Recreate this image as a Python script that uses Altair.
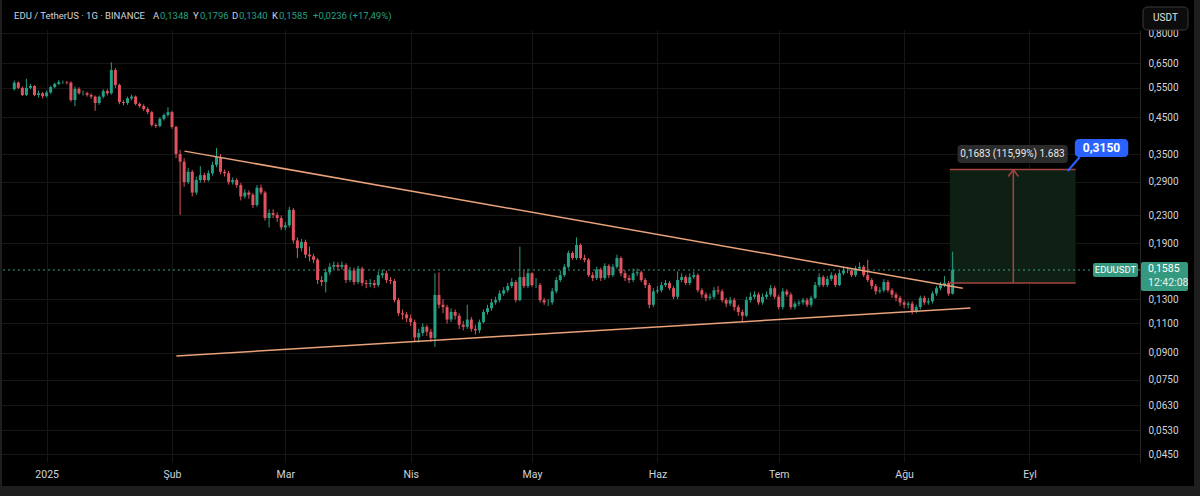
import altair as alt
import pandas as pd

# ---------------- data ----------------
first_open = 0.545
closes = [
    0.570, 0.550, 0.524, 0.550, 0.557, 0.524, 0.530, 0.520, 0.533, 0.553,
    0.565, 0.572, 0.572, 0.570, 0.506, 0.546, 0.530, 0.530, 0.524, 0.518,
    0.496, 0.518, 0.538, 0.530, 0.621, 0.561, 0.499, 0.496, 0.512, 0.518,
    0.493, 0.486, 0.476, 0.466, 0.427, 0.424, 0.445, 0.457, 0.466, 0.421,
    0.350, 0.332, 0.289, 0.310, 0.269, 0.293, 0.303, 0.293, 0.307, 0.325,
    0.343, 0.310, 0.307, 0.289, 0.293, 0.283, 0.262, 0.269, 0.265, 0.247,
    0.278, 0.269, 0.226, 0.234, 0.231, 0.226, 0.212, 0.215, 0.239, 0.194,
    0.184, 0.192, 0.176, 0.174, 0.170, 0.148, 0.146, 0.156, 0.162, 0.164,
    0.162, 0.164, 0.148, 0.158, 0.146, 0.160, 0.145, 0.144, 0.145, 0.143,
    0.153, 0.155, 0.148, 0.147, 0.129, 0.118, 0.117, 0.114, 0.111, 0.100,
    0.103, 0.1075, 0.104, 0.0997, 0.1336, 0.125, 0.123, 0.113, 0.119, 0.116,
    0.109, 0.1075, 0.113, 0.106, 0.105, 0.111, 0.119, 0.122, 0.127, 0.129,
    0.135, 0.138, 0.142, 0.146, 0.129, 0.151, 0.142, 0.155, 0.143, 0.143,
    0.129, 0.127, 0.127, 0.137, 0.148, 0.153, 0.162, 0.178, 0.172, 0.188,
    0.172, 0.170, 0.153, 0.150, 0.159, 0.150, 0.163, 0.153, 0.162, 0.172,
    0.155, 0.150, 0.148, 0.155, 0.156, 0.148, 0.143, 0.125, 0.137, 0.138,
    0.143, 0.145, 0.140, 0.132, 0.148, 0.151, 0.145, 0.151, 0.153, 0.138,
    0.134, 0.131, 0.132, 0.138, 0.137, 0.129, 0.126, 0.129, 0.123, 0.119,
    0.116, 0.129, 0.132, 0.134, 0.127, 0.132, 0.134, 0.140, 0.132, 0.123,
    0.137, 0.134, 0.123, 0.126, 0.127, 0.129, 0.125, 0.131, 0.143, 0.151,
    0.143, 0.149, 0.153, 0.143, 0.155, 0.158, 0.158, 0.153, 0.160, 0.162,
    0.153, 0.148, 0.142, 0.137, 0.138, 0.146, 0.138, 0.134, 0.131, 0.127,
    0.125, 0.126, 0.120, 0.123, 0.131, 0.127, 0.128, 0.135, 0.140, 0.143,
    0.145, 0.1348, 0.1585,
]
highs = [
    0.578, 0.575, 0.555, 0.585, 0.565, 0.560, 0.540, 0.535, 0.540, 0.558,
    0.570, 0.580, 0.578, 0.576, 0.575, 0.555, 0.552, 0.540, 0.536, 0.530,
    0.522, 0.522, 0.545, 0.545, 0.655, 0.630, 0.566, 0.505, 0.518, 0.525,
    0.522, 0.498, 0.492, 0.482, 0.470, 0.432, 0.450, 0.462, 0.482, 0.470,
    0.425, 0.360, 0.340, 0.318, 0.314, 0.300, 0.322, 0.308, 0.313, 0.332,
    0.365, 0.350, 0.315, 0.312, 0.298, 0.297, 0.287, 0.275, 0.273, 0.268,
    0.283, 0.284, 0.272, 0.240, 0.240, 0.235, 0.230, 0.220, 0.244, 0.242,
    0.198, 0.196, 0.195, 0.186, 0.177, 0.172, 0.152, 0.160, 0.166, 0.168,
    0.167, 0.168, 0.166, 0.162, 0.161, 0.163, 0.162, 0.148, 0.149, 0.148,
    0.157, 0.159, 0.158, 0.151, 0.149, 0.131, 0.121, 0.119, 0.117, 0.113,
    0.106, 0.110, 0.109, 0.106, 0.155, 0.156, 0.130, 0.125, 0.122, 0.121,
    0.118, 0.112, 0.125, 0.115, 0.109, 0.113, 0.121, 0.125, 0.130, 0.132,
    0.138, 0.141, 0.145, 0.150, 0.148, 0.186, 0.158, 0.160, 0.156, 0.150,
    0.145, 0.131, 0.130, 0.140, 0.151, 0.158, 0.165, 0.181, 0.180, 0.198,
    0.190, 0.176, 0.172, 0.156, 0.162, 0.161, 0.166, 0.165, 0.165, 0.176,
    0.174, 0.158, 0.153, 0.160, 0.160, 0.158, 0.150, 0.145, 0.140, 0.142,
    0.146, 0.148, 0.147, 0.142, 0.157, 0.155, 0.153, 0.155, 0.157, 0.155,
    0.140, 0.136, 0.135, 0.141, 0.142, 0.139, 0.131, 0.132, 0.131, 0.125,
    0.121, 0.132, 0.136, 0.137, 0.136, 0.135, 0.137, 0.143, 0.142, 0.134,
    0.140, 0.139, 0.136, 0.128, 0.129, 0.131, 0.131, 0.133, 0.146, 0.155,
    0.153, 0.152, 0.156, 0.155, 0.158, 0.162, 0.162, 0.160, 0.163, 0.167,
    0.164, 0.170, 0.150, 0.144, 0.141, 0.149, 0.148, 0.140, 0.136, 0.133,
    0.129, 0.128, 0.128, 0.125, 0.133, 0.133, 0.131, 0.137, 0.142, 0.146,
    0.152, 0.147, 0.1796,
]
lows = [
    0.540, 0.545, 0.520, 0.520, 0.545, 0.520, 0.515, 0.512, 0.515, 0.528,
    0.548, 0.560, 0.565, 0.563, 0.500, 0.485, 0.525, 0.522, 0.518, 0.510,
    0.470, 0.490, 0.512, 0.522, 0.525, 0.550, 0.492, 0.488, 0.490, 0.505,
    0.488, 0.480, 0.470, 0.460, 0.422, 0.418, 0.420, 0.440, 0.452, 0.416,
    0.340, 0.231, 0.280, 0.285, 0.262, 0.265, 0.288, 0.288, 0.290, 0.302,
    0.320, 0.305, 0.300, 0.284, 0.284, 0.278, 0.255, 0.258, 0.258, 0.242,
    0.244, 0.265, 0.222, 0.212, 0.226, 0.220, 0.208, 0.208, 0.212, 0.190,
    0.172, 0.180, 0.172, 0.168, 0.166, 0.144, 0.142, 0.136, 0.153, 0.159,
    0.158, 0.159, 0.145, 0.146, 0.143, 0.144, 0.142, 0.140, 0.141, 0.140,
    0.141, 0.150, 0.145, 0.144, 0.127, 0.116, 0.113, 0.111, 0.108, 0.0975,
    0.0965, 0.101, 0.101, 0.097, 0.0937, 0.122, 0.118, 0.110, 0.111, 0.113,
    0.106, 0.105, 0.106, 0.104, 0.102, 0.103, 0.110, 0.117, 0.120, 0.125,
    0.127, 0.133, 0.136, 0.140, 0.127, 0.128, 0.140, 0.140, 0.141, 0.140,
    0.127, 0.125, 0.124, 0.125, 0.135, 0.146, 0.151, 0.160, 0.170, 0.170,
    0.170, 0.167, 0.151, 0.147, 0.148, 0.147, 0.148, 0.150, 0.151, 0.160,
    0.152, 0.147, 0.145, 0.146, 0.152, 0.146, 0.140, 0.122, 0.123, 0.135,
    0.136, 0.141, 0.138, 0.130, 0.130, 0.146, 0.143, 0.143, 0.149, 0.136,
    0.131, 0.128, 0.129, 0.130, 0.134, 0.127, 0.123, 0.124, 0.120, 0.116,
    0.111, 0.115, 0.127, 0.130, 0.125, 0.125, 0.130, 0.132, 0.130, 0.121,
    0.121, 0.132, 0.121, 0.121, 0.124, 0.125, 0.123, 0.123, 0.130, 0.141,
    0.141, 0.141, 0.147, 0.141, 0.142, 0.153, 0.155, 0.151, 0.151, 0.158,
    0.151, 0.146, 0.139, 0.134, 0.135, 0.136, 0.136, 0.131, 0.128, 0.124,
    0.122, 0.122, 0.117, 0.118, 0.121, 0.125, 0.125, 0.126, 0.133, 0.138,
    0.141, 0.133, 0.1340,
]
assert len(closes) == len(highs) == len(lows) == 233

price_ticks = [0.045, 0.053, 0.063, 0.075, 0.09, 0.11, 0.13, 0.19, 0.23,
               0.29, 0.35, 0.45, 0.55, 0.65, 0.8]
month_labels = ["2025", "Şub", "Mar", "Nis", "May", "Haz", "Tem", "Ağu", "Eyl"]

upper_dates = ["2025-02-04T02:00:00", "2025-08-15T12:00:00"]
upper_prices = [0.357, 0.140]
lower_dates = ["2025-02-02T02:00:00", "2025-08-17T10:00:00"]
lower_prices = [0.0881, 0.1223]

proj_dates = ["2025-08-12T07:00:00", "2025-09-12T10:00:00"]
proj_base, proj_target = 0.1451, 0.315
arrow_date = "2025-08-28T00:00:00"
last_price = 0.1585

# ---------------- styling ----------------
UP, DOWN = "#26a085", "#e0525d"
TXT = "#d1d4dc"
TREND = "#e9a27a"
PROJ = "#a5443e"
FONT = "Roboto"
W, H = 1140, 432

dates = pd.date_range("2024-12-24", periods=len(closes), freq="D").strftime("%Y-%m-%dT00:00:00")
opens = [first_open] + closes[:-1]
candles = pd.DataFrame({"date": dates, "open": opens, "close": closes,
                        "high": highs, "low": lows})
candles["dir"] = ["up" if c >= o else "down" for o, c in zip(opens, closes)]

xs = alt.Scale(domain=[alt.DateTime(year=2024, month=12, date=21, hours=17),
                       alt.DateTime(year=2025, month=9, date=27, hours=2)])
ys = alt.Scale(type="log", domain=[0.0427, 0.8166])

label_expr = "[" + ",".join("'%s'" % s for s in month_labels) + "][month(datum.value)]"
xaxis = alt.Axis(values=[alt.DateTime(year=2025, month=m, date=1) for m in range(1, 10)],
                 labelExpr=label_expr, title=None, grid=True, gridColor="#161616",
                 domain=False, ticks=False, labelColor=TXT, labelFont=FONT,
                 labelFontSize=10.5, labelPadding=7, labelOverlap=False, labelFlush=False)
yaxis = alt.Axis(orient="right", values=price_ticks,
                 labelExpr="replace(format(datum.value, '.4f'), '.', ',')",
                 title=None, grid=True, gridColor="#161616", domain=True,
                 domainColor="#262626", ticks=False, labelColor=TXT, labelFont=FONT,
                 labelFontSize=10, labelPadding=8, labelOverlap=False, labelFlush=False)


def X(f):
    return alt.X(f, type="temporal", scale=xs, axis=xaxis)


def Y(f):
    return alt.Y(f, type="quantitative", scale=ys, axis=yaxis)


one = pd.DataFrame({"a": [0]})

# grey frame strips (the rest of the page is black)
frame_bottom = alt.Chart(one).mark_rect(color="#1e1e1e").encode(
    x=alt.value(0), x2=alt.value(1200), y=alt.value(456), y2=alt.value(466))
frame_left = alt.Chart(one).mark_rect(color="#1e1e1e").encode(
    x=alt.value(0), x2=alt.value(2), y=alt.value(-30), y2=alt.value(466))
frame_right = alt.Chart(one).mark_rect(color="#1e1e1e").encode(
    x=alt.value(1194), x2=alt.value(1200), y=alt.value(-30), y2=alt.value(466))

proj_df = pd.DataFrame({"date": [proj_dates[0]], "date2": [proj_dates[1]],
                        "p1": [proj_base], "p2": [proj_target]})
proj_box = alt.Chart(proj_df).mark_rect(color="#0e1f14").encode(
    x=X("date"), x2="date2", y=Y("p1"), y2="p2")

price_line = alt.Chart(pd.DataFrame({"price": [last_price]})).mark_rule(
    color="#3d9c86", strokeDash=[2, 3], strokeWidth=1).encode(y=Y("price"))

color = alt.Color("dir:N", scale=alt.Scale(domain=["up", "down"], range=[UP, DOWN]), legend=None)
wicks = alt.Chart(candles).mark_rule(strokeWidth=1).encode(
    x=X("date"), y=Y("low"), y2="high", color=color)
bodies = alt.Chart(candles).mark_bar(size=3).encode(
    x=X("date"), y=Y("open"), y2="close", color=color)

trend_df = pd.DataFrame({"date": [upper_dates[0], lower_dates[0]],
                         "date2": [upper_dates[1], lower_dates[1]],
                         "p1": [upper_prices[0], lower_prices[0]],
                         "p2": [upper_prices[1], lower_prices[1]]})
trends = alt.Chart(trend_df).mark_rule(color=TREND, strokeWidth=1.5).encode(
    x=X("date"), x2="date2", y=Y("p1"), y2="p2")

proj_lines_df = pd.DataFrame({"date": [proj_dates[0], proj_dates[0]],
                              "date2": [proj_dates[1], proj_dates[1]],
                              "p": [proj_base, proj_target]})
proj_lines = alt.Chart(proj_lines_df).mark_rule(color=PROJ, strokeWidth=1.5).encode(
    x=X("date"), x2="date2", y=Y("p"), y2="p")
arrow_df = pd.DataFrame({
    "date": [arrow_date, "2025-08-26T18:00:00", "2025-08-29T06:00:00"],
    "date2": [arrow_date, arrow_date, arrow_date],
    "p1": [proj_base, 0.3003, 0.3003],
    "p2": [proj_target, proj_target, proj_target]})
arrow = alt.Chart(arrow_df).mark_rule(color=PROJ, strokeWidth=1.5).encode(
    x=X("date"), x2="date2", y=Y("p1"), y2="p2")

# measure label
meas_box = alt.Chart(pd.DataFrame({"date": ["2025-08-14T05:00:00"], "date2": ["2025-09-10T11:00:00"],
                                   "p1": [0.3723], "p2": [0.3292]})).mark_rect(
    color="#2b2b2b", cornerRadius=3).encode(x=X("date"), x2="date2", y=Y("p1"), y2="p2")
meas_txt = alt.Chart(pd.DataFrame({"date": ["2025-08-27T19:00:00"], "p": [0.350],
                                   "t": ["0,1683 (115,99%) 1.683"]})).mark_text(
    color="#e8e8e8", font=FONT, fontSize=10).encode(x=X("date"), y=Y("p"), text="t")

# target callout
tail = alt.Chart(pd.DataFrame({"date": ["2025-09-10T11:00:00"], "date2": ["2025-09-13T10:00:00"],
                               "p1": [0.3117], "p2": [0.343]})).mark_rule(
    color="#2962ff", strokeWidth=2).encode(x=X("date"), x2="date2", y=Y("p1"), y2="p2")
target_box = alt.Chart(pd.DataFrame({"date": ["2025-09-12T05:00:00"], "date2": ["2025-09-25T10:00:00"],
                                     "p1": [0.388], "p2": [0.343]})).mark_rect(
    color="#2962ff", cornerRadius=4).encode(x=X("date"), x2="date2", y=Y("p1"), y2="p2")
target_txt = alt.Chart(pd.DataFrame({"date": ["2025-09-18T19:00:00"], "p": [0.3647],
                                     "t": ["0,3150"]})).mark_text(
    color="#ffffff", font=FONT, fontSize=12, fontWeight="bold").encode(
    x=X("date"), y=Y("p"), text="t")

# badges on the right
sym_badge = alt.Chart(one).mark_rect(color="#35997f", cornerRadius=2).encode(
    x=alt.value(1093), x2=alt.value(1138), y=alt.value(233), y2=alt.value(247))
sym_txt = alt.Chart(one).mark_text(color="#ffffff", font=FONT, fontSize=9.5, text="EDUUSDT").encode(
    x=alt.value(1115.5), y=alt.value(240))
px_badge = alt.Chart(one).mark_rect(color="#35997f", cornerRadius=2).encode(
    x=alt.value(1141), x2=alt.value(1188), y=alt.value(232), y2=alt.value(261))
px_txt1 = alt.Chart(one).mark_text(color="#ffffff", font=FONT, fontSize=10.5, text="0,1585",
                                   align="left").encode(x=alt.value(1148), y=alt.value(239))
px_txt2 = alt.Chart(one).mark_text(color="#e6f4ef", font=FONT, fontSize=10.5, text="12:42:08",
                                   align="left").encode(x=alt.value(1148), y=alt.value(253))

# USDT button
btn = alt.Chart(one).mark_rect(fill="#0c0c0c", stroke="#3a3a3a", strokeWidth=1, cornerRadius=4).encode(
    x=alt.value(1143), x2=alt.value(1188), y=alt.value(-23), y2=alt.value(0))
btn_txt = alt.Chart(one).mark_text(color="#e0e0e0", font=FONT, fontSize=10, text="USDT").encode(
    x=alt.value(1165.5), y=alt.value(-12))

# header
header_parts = [
    ("EDU / TetherUS · 1G · BINANCE", 14, TXT),
    ("A", 153, TXT), ("0,1348", 160, UP),
    ("Y", 193, TXT), ("0,1796", 200, UP),
    ("D", 232, TXT), ("0,1340", 239, UP),
    ("K", 272, TXT), ("0,1585", 279, UP),
    ("+0,0236 (+17,49%)", 313, UP),
]
header = [alt.Chart(one).mark_text(text=t, color=c, font=FONT, fontSize=9.5,
                                   align="left").encode(x=alt.value(x), y=alt.value(-14))
          for t, x, c in header_parts]

chart = alt.layer(
    frame_bottom, frame_left, frame_right,
    proj_box, price_line, wicks, bodies, trends, proj_lines, arrow,
    meas_box, meas_txt, tail, target_box, target_txt,
    sym_badge, sym_txt, px_badge, px_txt1, px_txt2, btn, btn_txt, *header
).properties(
    width=W, height=H, background="#000000",
    padding={"left": 0, "top": 30, "right": 60, "bottom": 34},
    autosize=alt.AutoSizeParams(type="none"),
).configure_view(strokeWidth=0)

chart.save("out.html", embed_options={"renderer": "svg", "actions": False})
